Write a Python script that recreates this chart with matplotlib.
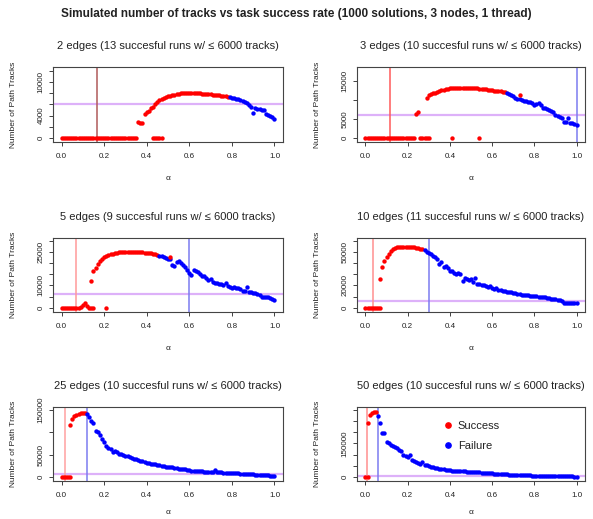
import numpy as np
import matplotlib
matplotlib.use("Agg")
import matplotlib.pyplot as plt
from matplotlib.lines import Line2D

plt.rcParams['font.family'] = ['Liberation Sans', 'DejaVu Sans']

#~~~~~~~~~~~~~~~~~~~~ DATA ~~~~~~~~~~~~~~~~~~~~
alphas = [i / 100 for i in range(101)]
edges = [2, 3, 5, 10, 25, 50]
n_success = [13, 10, 9, 11, 10, 10]
threshold = 6000

tracks_2 = ([0] * 36 +
            [2800, 2750, 2700,
             4300, 4600, 4900, 5300, 5600, 6000, 6400, 6700, 6950, 7150,
             7300, 7450, 7550, 7650, 7750, 7850, 7900, 7950, 7980, 8000,
             8000, 8020, 8000, 8050, 8000, 7980, 7950, 7900, 7900, 7850,
             7800, 7780, 7720, 7700, 7650, 7600, 7550, 7500, 7450, 7380,
             7300, 7200, 7100, 6950, 6900, 6700, 6600, 6400, 6200, 5800,
             5500, 4400, 5400, 5200, 5100, 5050, 4950, 4200, 4100, 4000,
             3700, 3450])
tracks_3 = ([0] * 24 +
            [6300, 6900, 0, 0, 0,
             10600, 11500, 11700, 11800, 12000, 12200, 12400, 12600, 12700, 12900,
             13000, 13200, 13200, 13300, 13300, 13300, 13300, 13300, 13300, 13250,
             13250, 13200, 13200, 13150, 13100, 13050, 13000, 12900, 12850, 12800,
             12700, 12600, 12500, 12450, 12400, 12300, 12200, 12050, 11900, 11700,
             11500, 11200, 10500, 10300, 10200, 10000, 9900, 9700, 9600, 9400,
             9300, 8800, 9000, 9300, 8600, 8000, 7800, 7600, 7300, 7200,
             6800, 6000, 5700, 5500, 5200, 4300, 4200, 5300, 4000, 3900,
             3700, 3500])
tracks_5 = ([0] * 9 +
            [500, 1200, 2000, 700, 0, 12000, 16300, 18000, 19500, 20800,
             21800, 22500, 23000, 23500, 23900, 24200, 24500, 24700, 24800, 24900,
             24950, 25000, 25000, 25000, 25000, 24950, 24900, 24900, 24850, 24800,
             24700, 24600, 24500, 24300, 24200, 24000, 23800, 23300, 23000, 22500,
             22300, 22000, 21800, 19000, 18500, 20500, 20800, 19800, 19000, 18200,
             17000, 15400, 14600, 16800, 16500, 16000, 15300, 14200, 14000, 13200,
             12600, 12800, 11500, 11200, 11000, 10700, 10500, 10200, 11000, 9800,
             9300, 9000, 9200, 8800, 8700, 8500, 7600, 7400, 9300, 7200,
             7000, 6800, 6600, 6300, 5500, 4800, 5000, 4700, 4900, 4500,
             4000, 3400])
tracks_10 = ([0] * 7 +
             [25400, 36400, 42000, 45400, 48500, 51000, 52500, 53500, 54000, 54300,
              54400, 54500, 54500, 54400, 54300, 54200, 54000, 53600, 53200, 52800,
              52200, 51300, 50000, 49000, 47800, 46500, 45500, 43500, 39500, 41000,
              36500, 37000, 35500, 32500, 33000, 31500, 30500, 31000, 30000, 23500,
              26500, 25500, 24500, 26000, 23000, 27000, 21500, 21000, 20000, 20500,
              19500, 18500, 19000, 17800, 17000, 17500, 16000, 15500, 15000, 14800,
              14500, 14200, 14000, 13600, 12800, 12500, 12200, 11800, 11600, 11200,
              11000, 10800, 10500, 10300, 10100, 9900, 9600, 9400, 9200, 9000,
              8400, 8100, 7900, 7600, 6900, 6600, 6200, 4600, 4500, 4400,
              4400, 4300, 4300, 4200])
tracks_25 = ([0] * 4 +
             [116000, 129000, 136000, 139000, 142000, 144000, 144000, 143000, 141000, 134000,
              125000, 121000, 103000, 100000, 95000, 85000, 79000, 69000, 66000, 62000,
              57000, 58000, 56000, 52000, 51000, 50000, 48000, 46500, 45000, 42000,
              41000, 39500, 38000, 36000, 35000, 33500, 32500, 31000, 30000, 29500,
              28500, 27500, 27000, 25000, 24500, 23500, 23000, 22500, 21500, 20000,
              19500, 19000, 18000, 17500, 17000, 16000, 15500, 14500, 14000, 13500,
              13200, 13000, 12500, 12200, 12000, 11500, 11200, 11000, 15000, 10800,
              10500, 10200, 10000, 9800, 9600, 9400, 9200, 8500, 8200, 8000,
              7800, 7500, 7200, 7000, 6800, 6600, 6400, 5500, 5200, 5000,
              4700, 4400, 4100, 3800, 3300, 2800, 2500])
tracks_50 = [0,
             240000, 278000, 285000, 292000, 293000, 275000, 240000, 198000, 196000, 155000,
             150000, 145000, 138000, 133000, 128000, 120000, 115000, 100000, 92000, 88000,
             98000, 78000, 72000, 69000, 62000, 57000, 68000, 55000, 52000, 49000,
             47000, 43000, 41000, 39000, 37000, 36000, 34500, 33500, 32500, 31500,
             29000, 28000, 27500, 27000, 26000, 25500, 25000, 24500, 24000, 23500,
             22500, 22000, 21000, 20500, 19500, 19000, 18000, 17500, 17000, 16500,
             14000, 13500, 13000, 12500, 12000, 11800, 11500, 11000, 10800, 10500,
             9500, 9000, 8700, 8400, 8000, 7600, 7200, 6900, 6500, 6200,
             5800, 5500, 5300, 5000, 4800, 4600, 4400, 4200, 4000, 3800,
             3600, 3400, 3200, 3000, 2900, 2700, 2600, 2400, 2200, 2000]
all_tracks = [tracks_2, tracks_3, tracks_5, tracks_10, tracks_25, tracks_50]

# alpha where the runs start failing
first_fail = [0.79, 0.67, 0.46, 0.28, 0.12, 0.06]
# extra successful runs (alpha, tracks) on top of the main sweep
extra_alpha = [[0.43, 0.44, 0.45, 0.46, 0.47],
               [0.29, 0.30, 0.41, 0.54, 0.73],
               [0.14, 0.15, 0.21, 0.51],
               [0.07],
               [0.04],
               [0.01]]
extra_tracks = [[0, 0, 0, 0, 0],
                [0, 0, 0, 0, 11300],
                [0, 0, 0, 22700],
                [0],
                [0],
                [0]]
# vertical markers: success-rate alpha (red) and failure alpha (blue)
red_vline = [0.165, 0.114, 0.07, 0.038, 0.015, 0.008]
blue_vline = [None, 1.0, 0.60, 0.30, 0.12, 0.061]

#~~~~~~~~~~~~~~~~~~~~ AXES STYLE ~~~~~~~~~~~~~~~~~~~~
ylims = [(-700, 12650), (-1100, 18800), (-1900, 31200),
         (-3850, 62400), (-8900, 156700), (-17900, 313400)]
yticks = [np.arange(0, 12001, 2000), np.arange(0, 15001, 5000), np.arange(0, 30001, 5000),
          np.arange(0, 60001, 10000), np.arange(0, 150001, 50000), np.arange(0, 300001, 50000)]
ylabels_shown = [[0, 4000, 10000], [0, 5000, 15000], [0, 10000, 25000],
                 [0, 20000, 50000], [0, 50000, 150000], [0, 150000]]
red_line_col = ['#b05a5a', '#ff5a5a', '#ff9a9a', '#ff9090', '#ffa0a0', '#ff9090']

W, H = 593, 519
col_x = [(53, 283), (357, 585)]
row_y = [(67, 142), (238, 312), (407, 481)]
txt = '#222222'

fig = plt.figure(figsize=(W / 100, H / 100), dpi=100)
fig.suptitle("Simulated number of tracks vs task success rate (1000 solutions, 3 nodes, 1 thread)",
             fontsize=8.5, fontweight='bold', y=1 - 14 / H, va='center', color=txt)

for i in range(6):
    r, c = divmod(i, 2)
    x0, x1 = col_x[c]
    y0, y1 = row_y[r]
    ax = fig.add_axes([x0 / W, 1 - y1 / H, (x1 - x0) / W, (y1 - y0) / H])

    a = np.array(alphas)
    t = np.array(all_tracks[i])
    ok = a < first_fail[i] - 1e-9

    ax.axhline(threshold, color='#a020f0', alpha=0.35, lw=1.6, zorder=1)
    ax.axvline(red_vline[i], color=red_line_col[i], lw=1.1, zorder=1)
    if blue_vline[i] is not None:
        ax.axvline(blue_vline[i], color='#7c7cf0', lw=1.1, zorder=1)

    ax.scatter(a[ok], t[ok], s=10, color='red', linewidths=0, zorder=3)
    ax.scatter(a[~ok], t[~ok], s=10, color='blue', linewidths=0, zorder=3)
    ax.scatter(extra_alpha[i], extra_tracks[i], s=10, color='red', linewidths=0, zorder=3)

    ax.set_xlim(-0.04, 1.04)
    ax.set_ylim(*ylims[i])
    ax.set_xticks([0, 0.2, 0.4, 0.6, 0.8, 1.0])
    ax.set_xticklabels(['0.0', '0.2', '0.4', '0.6', '0.8', '1.0'])
    ax.set_yticks(yticks[i])
    ax.set_yticklabels([str(v) if v in ylabels_shown[i] else '' for v in yticks[i]],
                       rotation=90, va='center')
    ax.tick_params(direction='out', length=3, width=0.6, labelsize=5.8, colors=txt)
    ax.tick_params(axis='x', pad=5)
    ax.tick_params(axis='y', pad=3)
    for sp in ax.spines.values():
        sp.set_linewidth(0.8)
        sp.set_color('#444444')

    ax.set_title("%d edges (%d succesful runs w/ \u2264 %d tracks)" % (edges[i], n_success[i], threshold),
                 fontsize=8, pad=13, color=txt)
    ax.set_ylabel("Number of Path Tracks", fontsize=6, color=txt)
    ax.yaxis.set_label_coords(-36 / (x1 - x0), 0.5)
    ax.set_xlabel("\u03b1", fontsize=6, color=txt)
    ax.xaxis.set_label_coords(0.5, -0.44 if r < 2 else -0.38)

    if i == 5:
        handles = [Line2D([], [], ls='', marker='o', ms=3.8, color='red'),
                   Line2D([], [], ls='', marker='o', ms=3.8, color='blue')]
        ax.legend(handles, ['Success', 'Failure'], loc='upper left', bbox_to_anchor=(0.355, 0.89),
                  frameon=False, fontsize=8, handlelength=0.8, handletextpad=0.5,
                  labelspacing=0.9, borderpad=0, labelcolor=txt)

fig.savefig("out.png", dpi=100)
